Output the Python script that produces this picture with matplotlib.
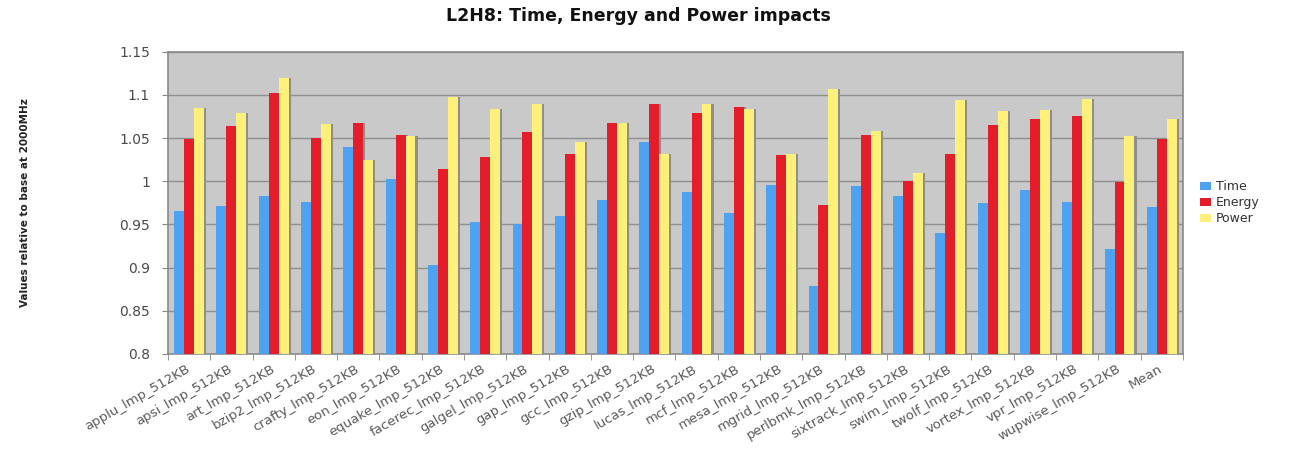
import numpy as np
import matplotlib
matplotlib.use("Agg")
import matplotlib.pyplot as plt
from matplotlib.ticker import FixedLocator

benchmarks = [
    "applu_lmp_512KB", "apsi_lmp_512KB", "art_lmp_512KB", "bzip2_lmp_512KB",
    "crafty_lmp_512KB", "eon_lmp_512KB", "equake_lmp_512KB", "facerec_lmp_512KB",
    "galgel_lmp_512KB", "gap_lmp_512KB", "gcc_lmp_512KB", "gzip_lmp_512KB",
    "lucas_lmp_512KB", "mcf_lmp_512KB", "mesa_lmp_512KB", "mgrid_lmp_512KB",
    "perlbmk_lmp_512KB", "sixtrack_lmp_512KB", "swim_lmp_512KB", "twolf_lmp_512KB",
    "vortex_lmp_512KB", "vpr_lmp_512KB", "wupwise_lmp_512KB", "Mean",
]

time_vals = [0.966, 0.971, 0.983, 0.976, 1.040, 1.003, 0.903, 0.953,
             0.951, 0.960, 0.978, 1.045, 0.988, 0.963, 0.996, 0.879,
             0.995, 0.983, 0.940, 0.975, 0.990, 0.976, 0.921, 0.970]
energy_vals = [1.049, 1.064, 1.102, 1.050, 1.067, 1.054, 1.014, 1.028,
               1.057, 1.032, 1.068, 1.090, 1.079, 1.086, 1.030, 0.973,
               1.053, 1.000, 1.031, 1.065, 1.072, 1.075, 0.999, 1.049]
power_vals = [1.085, 1.079, 1.120, 1.066, 1.025, 1.052, 1.097, 1.084,
              1.090, 1.046, 1.067, 1.032, 1.089, 1.084, 1.031, 1.107,
              1.058, 1.010, 1.094, 1.081, 1.082, 1.095, 1.052, 1.072]

series_names = ["Time", "Energy", "Power"]
series_colors = ["#4da3f2", "#e41d2b", "#fff07a"]

y_ticks = [0.8, 0.85, 0.9, 0.95, 1.0, 1.05, 1.1, 1.15]
y_tick_labels = ["0.8", "0.85", "0.9", "0.95", "1", "1.05", "1.1", "1.15"]

fig = plt.figure(figsize=(13.09, 4.51), dpi=100)
ax = fig.add_axes([0.1283, 0.2151, 0.7754, 0.6703])
ax.set_facecolor("#c9c9c9")

x = np.arange(len(benchmarks))
w = 0.235
base = 0.8
for k, (vals, color, name) in enumerate(zip([time_vals, energy_vals, power_vals],
                                            series_colors, series_names)):
    pos = x + (k - 1) * w
    heights = np.array(vals) - base
    # soft drop shadow on the right side of each bar
    ax.bar(pos + 0.05, heights, width=w, bottom=base, color="#8e8e8e",
           zorder=2, linewidth=0)
    ax.bar(pos, heights, width=w, bottom=base, color=color,
           zorder=3, linewidth=0, label=name)

ax.set_xlim(-0.5, len(benchmarks) - 0.5)
ax.set_ylim(0.8, 1.15)
ax.set_yticks(y_ticks)
ax.set_yticklabels(y_tick_labels)
ax.yaxis.grid(True, color="#8f8f8f", linewidth=1.0, zorder=1)
ax.set_axisbelow(True)

ax.set_xticks(x)
ax.set_xticklabels(benchmarks, rotation=30, ha="right", va="center",
                   rotation_mode="anchor", fontsize=9.5, color="#5a5a5a")
ax.xaxis.set_minor_locator(FixedLocator(np.arange(-0.5, len(benchmarks), 1.0)))
ax.tick_params(axis="x", which="major", length=0, pad=10)
ax.tick_params(axis="x", which="minor", length=4, color="#888888")
ax.tick_params(axis="y", length=4, color="#888888", labelsize=10,
               labelcolor="#4a4a4a", pad=9)

for side in ["left", "bottom", "top", "right"]:
    ax.spines[side].set_color("#8a8a8a")
    ax.spines[side].set_linewidth(1.2)

ax.set_ylabel("Values relative to base at 2000MHz", fontsize=7.5,
              fontweight="bold", color="#222222", labelpad=64)

fig.text(0.488, 0.965, "L2H8: Time, Energy and Power impacts",
         ha="center", va="center", fontsize=12.5, fontweight="bold",
         color="#111111")

leg = ax.legend(loc="center left", bbox_to_anchor=(1.008, 0.5),
                frameon=False, fontsize=9, handlelength=0.9,
                handleheight=0.6, handletextpad=0.4, labelspacing=0.25,
                borderaxespad=0.3)
for t in leg.get_texts():
    t.set_color("#333333")

fig.savefig("out.png", dpi=100)
